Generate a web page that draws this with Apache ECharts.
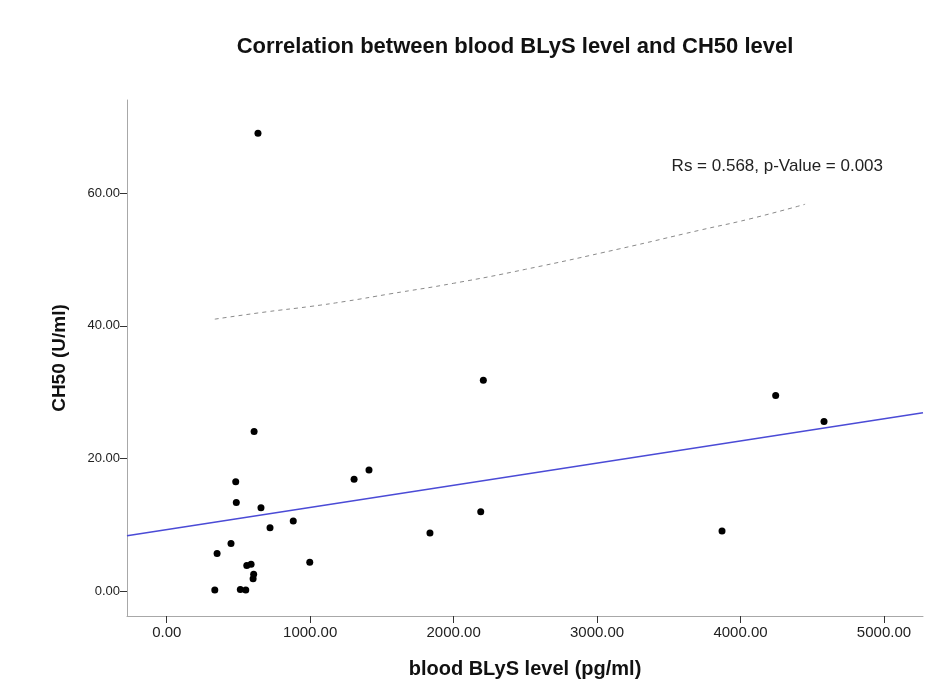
<!DOCTYPE html>
<html>
<head>
<meta charset="utf-8">
<script src="https://cdn.jsdelivr.net/npm/echarts@6/dist/echarts.min.js"></script>
<style>
  html, body { margin: 0; padding: 0; background: #ffffff; }
  #chart { width: 930px; height: 689px; }
</style>
</head>
<body>
<div id="chart"></div>
<script>
// Blood BLyS level (pg/ml) and CH50 (U/ml) per patient
const blysLevel = [636, 609, 481, 485, 657, 882, 720, 448, 351, 997, 558, 588, 606, 602, 335, 513, 551,
                   1306, 1410, 2207, 2189, 1835, 3871, 4245, 4582];
const ch50Level = [69.0, 24.1, 16.5, 13.4, 12.6, 10.6, 9.6, 7.2, 5.7, 4.4, 3.9, 4.1, 2.6, 1.9, 0.2, 0.3, 0.2,
                   16.9, 18.3, 31.8, 12.0, 8.8, 9.1, 29.5, 25.6];

// Linear fit line, spanning the full x range
const fitX = [-277, 5272];
const fitY = [8.37, 26.91];

// Dashed reference curve
const curveX = [335, 695, 997, 1253, 1555, 2000, 2500, 3159, 3717, 4066, 4450];
const curveY = [41.0, 42.1, 42.9, 43.7, 44.8, 46.4, 48.5, 51.6, 54.4, 56.1, 58.3];

// Axis ticks
const xTicks = [0, 1000, 2000, 3000, 4000, 5000];
const yTicks = [0, 20, 40, 60];

const annotation = 'Rs = 0.568, p-Value = 0.003';
const FONT = 'Arial, "Liberation Sans", sans-serif';

const points = blysLevel.map((x, i) => [x, ch50Level[i]]);
const fitLine = fitX.map((x, i) => [x, fitY[i]]);
const curve = curveX.map((x, i) => [x, curveY[i]]);

const chart = echarts.init(document.getElementById('chart'), null, { renderer: 'canvas' });

const axisLine = { show: true, onZero: false, lineStyle: { color: '#a8a8a8', width: 1 } };
const tickStyle = { color: '#333333', width: 1 };

chart.setOption({
  backgroundColor: '#ffffff',
  animation: false,
  title: {
    text: 'Correlation between blood BLyS level and CH50 level',
    left: 510,
    top: 31,
    textAlign: 'center',
    textStyle: { fontFamily: FONT, fontWeight: 'bold', fontSize: 22, color: '#111111' }
  },
  grid: { left: 127, right: 7, top: 100, bottom: 73 },
  xAxis: {
    type: 'value',
    min: -277,
    max: 5272,
    name: 'blood BLyS level (pg/ml)',
    nameLocation: 'middle',
    nameGap: 43,
    nameTextStyle: { fontFamily: FONT, fontWeight: 'bold', fontSize: 20, color: '#111111' },
    axisLine: axisLine,
    splitLine: { show: false },
    axisTick: { show: true, length: 7, lineStyle: tickStyle, customValues: xTicks },
    axisLabel: {
      customValues: xTicks,
      formatter: v => v.toFixed(2),
      fontFamily: FONT, fontSize: 15, color: '#222222', margin: 9
    }
  },
  yAxis: {
    type: 'value',
    min: -3.7,
    max: 74,
    name: 'CH50 (U/ml)',
    nameLocation: 'middle',
    nameGap: 58,
    nameTextStyle: { fontFamily: FONT, fontWeight: 'bold', fontSize: 19, color: '#111111' },
    axisLine: axisLine,
    splitLine: { show: false },
    axisTick: { show: true, length: 7, lineStyle: tickStyle, customValues: yTicks },
    axisLabel: {
      customValues: yTicks,
      formatter: v => v.toFixed(2),
      fontFamily: FONT, fontSize: 13, color: '#222222', margin: 7
    }
  },
  graphic: [{
    type: 'text',
    right: 47,
    top: 158,
    style: { text: annotation, fontFamily: FONT, fontSize: 17, fill: '#222222' }
  }],
  series: [
    {
      type: 'line',
      data: curve,
      smooth: true,
      symbol: 'none',
      lineStyle: { color: '#8a8a8a', width: 1, type: [4, 4] },
      z: 1
    },
    {
      type: 'line',
      data: fitLine,
      symbol: 'none',
      lineStyle: { color: '#4b4bd6', width: 1.5 },
      z: 2
    },
    {
      type: 'scatter',
      data: points,
      symbol: 'circle',
      symbolSize: 7,
      itemStyle: { color: '#000000', opacity: 1 },
      z: 3
    }
  ]
});
</script>
</body>
</html>
